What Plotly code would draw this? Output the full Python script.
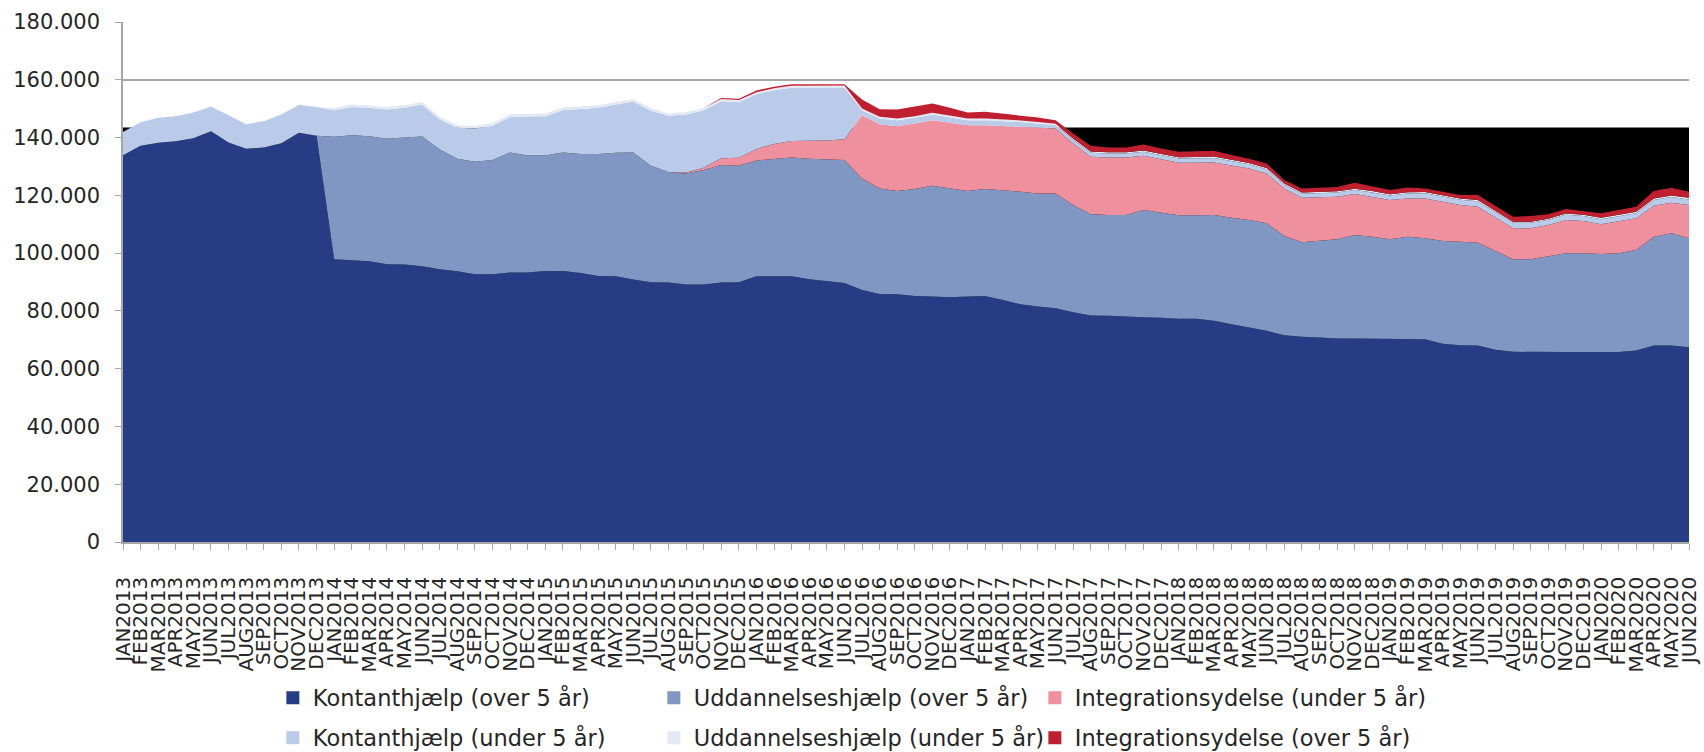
import plotly.graph_objects as go

# ---------------- data ----------------
month_names = ["JAN", "FEB", "MAR", "APR", "MAY", "JUN", "JUL", "AUG", "SEP", "OCT", "NOV", "DEC"]
years = [2013, 2014, 2015, 2016, 2017, 2018, 2019, 2020]
months = [f"{m}{y}" for y in years for m in month_names][:90]

kont_over = [133900, 137150, 138180, 138760, 139800, 142210, 138300, 136110, 136570, 138070, 141640, 140600,
             97860, 97630, 97170, 96130, 96020, 95440, 94410, 93720, 92680, 92680, 93250, 93250,
             93830, 93830, 93140, 92100, 91990, 90840, 89910, 89800, 89110, 89110, 89800, 89910,
             91990, 91990, 91990, 90950, 90370, 89680, 87260, 85880, 85770, 85190, 84960, 84730,
             84960, 85190, 83800, 82310, 81500, 80930, 79550, 78390, 78280, 77930, 77820, 77590,
             77240, 77240, 76550, 75400, 74250, 73090, 71600, 71020, 70790, 70450, 70450, 70450,
             70450, 70330, 70210, 68600, 68140, 68030, 66530, 65840, 65730, 65730, 65730, 65730,
             65730, 65730, 66300, 68030, 68030, 67450]

udd_over = [0, 0, 0, 0, 0, 0, 0, 0, 0, 0, 0, 0,
            42400, 43200, 43320, 43440, 44010, 44930, 41470, 38930, 38940, 39510, 41590, 40560,
            39980, 41010, 41130, 42170, 42740, 44000, 40320, 38250, 38470, 39630, 40660, 40320,
            40090, 40660, 41120, 41700, 42170, 42510, 38600, 36520, 35710, 36980, 38360, 37670,
            36520, 36980, 38020, 38940, 39170, 39740, 37090, 35020, 34900, 35250, 37090, 36400,
            35830, 35830, 36630, 36860, 37210, 37210, 34330, 32720, 33410, 34320, 35820, 35250,
            34320, 35370, 34910, 35600, 35830, 35590, 34210, 32020, 32130, 33050, 34210, 34210,
            33980, 34210, 34790, 37670, 38820, 37670]

integ_under = [0, 0, 0, 0, 0, 0, 0, 0, 0, 0, 0, 0,
               0, 0, 0, 0, 0, 0, 0, 0, 0, 0, 0, 0,
               0, 0, 0, 0, 0, 0, 0, 0, 350, 800, 2400, 2750,
               4000, 5100, 5700, 6150, 6400, 7200, 21880, 22230, 22460, 22690, 22700, 22700,
               22810, 22120, 22240, 22460, 22700, 22470, 21310, 19930, 19930, 19930, 18780, 18430,
               18200, 18200, 18210, 18090, 17850, 17280, 16470, 15430, 15090, 14750, 14170, 13820,
               13600, 13240, 13820, 13590, 12670, 12440, 11520, 10720, 10720, 10950, 11520, 11170,
               10250, 10940, 10940, 10710, 10600, 11520]

kont_under = [8050, 8180, 8640, 8640, 8870, 8530, 9440, 8520, 9100, 9900, 9680, 10020,
              9210, 9790, 9790, 10130, 10250, 11060, 10370, 10720, 11520, 11870, 12330, 13360,
              13590, 14630, 15660, 16010, 16700, 17630, 19010, 19460, 20040, 19930, 19710, 19240,
              18890, 18610, 18440, 18560, 18440, 17980, 1730, 1960, 2080, 1960, 1960, 1900,
              1730, 1730, 1700, 1650, 1500, 1200, 1300, 1380, 1350, 1350, 1400, 1400,
              1450, 1500, 1550, 1500, 1450, 1450, 1300, 1400, 1400, 1450, 1400, 1500,
              1550, 1700, 1750, 1800, 1850, 1900, 1900, 1960, 1960, 1800, 1800, 1750,
              1800, 1800, 1800, 1960, 1960, 1960]

udd_under = [0, 0, 0, 0, 0, 0, 0, 0, 0, 0, 0, 0,
             800, 800, 850, 850, 900, 900, 900, 850, 850, 850, 900, 900,
             900, 900, 900, 900, 900, 900, 900, 850, 850, 800, 800, 800,
             750, 700, 700, 650, 650, 650, 580, 580, 570, 580, 570, 570,
             570, 570, 560, 550, 520, 480, 460, 460, 450, 450, 460, 460,
             460, 460, 460, 450, 450, 450, 400, 400, 420, 420, 460, 450,
             450, 460, 450, 450, 450, 460, 420, 350, 350, 400, 460, 460,
             460, 480, 500, 550, 575, 575]

integ_over = [0, 0, 0, 0, 0, 0, 0, 0, 0, 0, 0, 0,
              0, 0, 0, 0, 0, 0, 0, 0, 0, 0, 0, 0,
              0, 0, 0, 0, 0, 0, 0, 0, 0, 0, 300, 400,
              600, 500, 500, 450, 450, 450, 3110, 2650, 3110, 3220, 3230, 2710,
              2070, 2310, 2000, 1830, 1550, 1200, 1700, 1970, 1660, 1660, 2060, 1940,
              1890, 2070, 2020, 1620, 1440, 1560, 1180, 1430, 1410, 1470, 2060, 1510,
              1450, 1650, 1260, 1210, 1160, 1680, 1720, 1720, 1950, 1480, 1540, 1250,
              1540, 1750, 1730, 2560, 2650, 2080]

# hidden background series (black level behind the stack)
background_level = [143500, 143500, 143500, 143500, 143500, 143500, 143500, 143500, 143500, 143500,
                    143500, 143500, 143500, 143500, 143500, 143500, 143500, 143500, 143500, 143500,
                    143500, 143500, 143500, 143500, 143500, 143500, 143500, 143500, 143500, 143500,
                    143500, 143500, 143500, 143500, 143500, 143500, 143500, 143500, 143500, 143500,
                    143500, 143500, 143500, 143500, 143500, 143500, 143500, 143500, 143500, 143500,
                    143500, 143500, 143500, 143500, 143500, 143500, 143500, 143500, 143500, 143500,
                    143500, 143500, 143500, 143500, 143500, 143500, 143500, 143500, 143500, 143500,
                    143500, 143500, 143500, 143500, 143500, 143500, 143500, 143500, 143500, 143500,
                    143500, 143500, 143500, 143500, 143500, 143500, 143500, 143500, 143500, 143500]

series_names = ["Kontanthjælp (over 5 år)", "Uddannelseshjælp (over 5 år)", "Integrationsydelse (under 5 år)",
                "Kontanthjælp (under 5 år)", "Uddannelseshjælp (under 5 år)", "Integrationsydelse (over 5 år)"]
series_values = [kont_over, udd_over, integ_under, kont_under, udd_under, integ_over]
series_colors = ["#263C85", "#7F97C2", "#EF909E", "#BACBEA", "#E3E8F3", "#C01F2F"]
legend_ids = ["legend", "legend", "legend", "legend2", "legend2", "legend2"]
legend_item_widths = [336, 336, 420, 336, 336, 420]

FONT = "DejaVu Sans"
TXT = "#262626"

fig = go.Figure()

fig.add_trace(go.Scatter(x=months, y=background_level, mode="lines", line=dict(width=0, color="#000000"),
                         fill="tozeroy", fillcolor="#000000", showlegend=False, hoverinfo="skip"))

for name, vals, col in zip(series_names, series_values, series_colors):
    fig.add_trace(go.Scatter(x=months, y=vals, name=name, mode="lines", stackgroup="one",
                             line=dict(width=0, color=col), fillcolor=col, showlegend=False))

for name, col, lg, lw in zip(series_names, series_colors, legend_ids, legend_item_widths):
    fig.add_trace(go.Scatter(x=[None], y=[None], name=name, mode="markers",
                             marker=dict(symbol="square", size=13, color=col),
                             legend=lg, legendwidth=lw, showlegend=True))

legend_common = dict(orientation="h", xanchor="left", yanchor="middle", entrywidth=336,
                     entrywidthmode="pixels", traceorder="normal",
                     font=dict(family=FONT, size=22.5, color=TXT),
                     bgcolor="rgba(0,0,0,0)", itemclick=False, itemdoubleclick=False)

fig.update_layout(
    width=1704, height=752,
    margin=dict(l=123, r=15, t=22, b=210, autoexpand=False),
    paper_bgcolor="white", plot_bgcolor="white",
    separators=",.",
    font=dict(family=FONT, color=TXT),
    showlegend=True,
    legend=dict(x=0.0957, y=-0.300, **legend_common),
    legend2=dict(x=0.0957, y=-0.377, **legend_common),
    xaxis=dict(type="category", range=[0, 89], tickmode="array", tickvals=months, ticktext=months,
               tickangle=-90, tickfont=dict(family=FONT, size=20, color=TXT),
               showgrid=False, showline=True, linecolor="#A6A6A6", linewidth=1.5,
               ticks="outside", ticklen=6, tickcolor="#A6A6A6", tickwidth=1,
               ticklabelstandoff=19, automargin=False),
    yaxis=dict(range=[0, 180000], dtick=20000, tickformat=",d",
               tickfont=dict(family=FONT, size=21, color=TXT),
               showgrid=True, gridcolor="#A6A6A6", gridwidth=1.5, zeroline=False,
               showline=True, linecolor="#A6A6A6", linewidth=1.5,
               ticks="outside", ticklen=6, tickcolor="#A6A6A6",
               ticklabelstandoff=11, automargin=False),
)

fig.write_html("out.html", config={"displayModeBar": False},
               post_script="document.body.style.margin='0';document.body.style.overflow='hidden';")
